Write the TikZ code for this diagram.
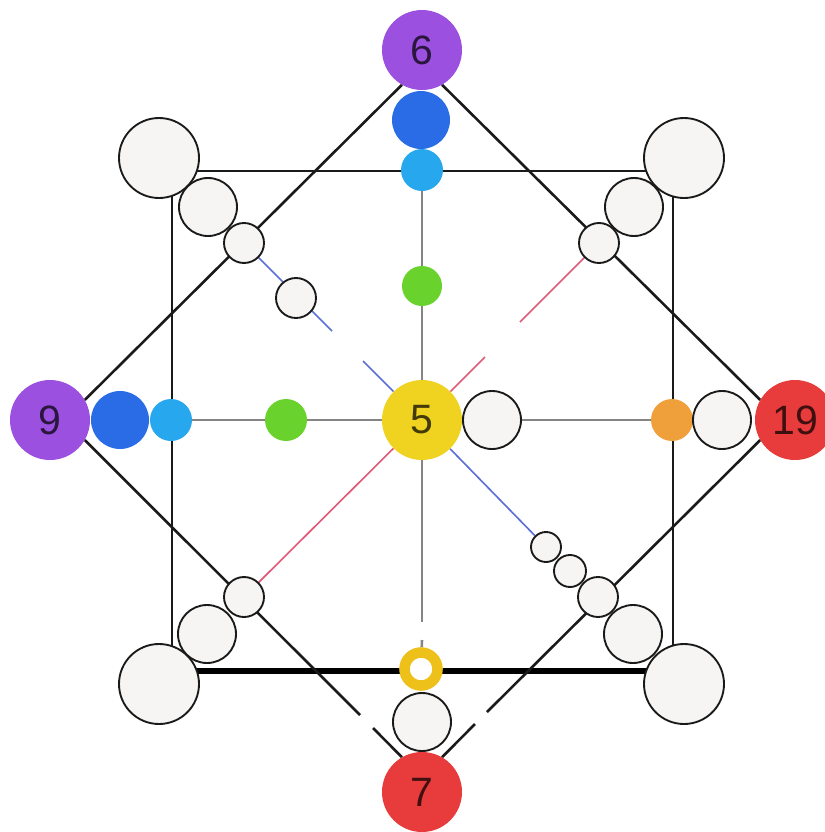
\documentclass[tikz,border=0pt]{standalone}
\usepackage{fontspec}
\setmainfont{Liberation Sans}
\usetikzlibrary{calc}
\definecolor{cpurple}{HTML}{9B50E0}
\definecolor{cdblue}{HTML}{2A6CE6}
\definecolor{clblue}{HTML}{27A8EE}
\definecolor{cgreen}{HTML}{6AD22C}
\definecolor{cyellow}{HTML}{F0D220}
\definecolor{cring}{HTML}{EEC01A}
\definecolor{cred}{HTML}{E83B3B}
\definecolor{corange}{HTML}{F0A03A}
\definecolor{cwhite}{HTML}{F6F5F3}
\definecolor{cgray}{HTML}{858585}
\definecolor{cbluel}{HTML}{5C6FD6}
\definecolor{credl}{HTML}{E05A78}
\definecolor{cline}{HTML}{1A1A1A}
\pgfdeclarelayer{background}
\pgfsetlayers{background,main}
\tikzset{
  ball/.style={circle, inner sep=0pt, draw=none, minimum size=#1},
  bignum/.style={circle, inner sep=0pt, minimum size=2.4cm, font=\fontsize{35}{35}\selectfont, text=black, text opacity=0.72},
  wc/.style={circle, inner sep=0pt, draw=cline, line width=1.6pt, fill=cwhite, minimum size=#1},
  sqline/.style={draw=cline, line width=2.5pt},
  diam/.style={draw=cline, line width=2.2pt},
  grayline/.style={draw=cgray, line width=2.2pt},
  blueline/.style={draw=cbluel, line width=1.4pt},
  redline/.style={draw=credl, line width=1.4pt}
}
\begin{document}
\begin{tikzpicture}[x=0.03cm,y=-0.03cm]
\useasboundingbox (0,0) rectangle (825,832);
\clip (0,0) rectangle (825,832);

% square corners and gap points
\coordinate (sqTL) at (172,171);
\coordinate (sqTR) at (673,171);
\coordinate (sqBL) at (172,671);
\coordinate (sqBR) at (673,671);
\coordinate (vgap1) at (422,622);
\coordinate (vgap2) at (422,640);
\coordinate (gl1) at (360,715);
\coordinate (gl2) at (373,728);
\coordinate (gr1) at (487,712);
\coordinate (gr2) at (475,724);
\coordinate (bl1) at (332,331);
\coordinate (bl2) at (363,361);
\coordinate (rd1) at (520,322);
\coordinate (rd2) at (485,357);

% main numbered circles
\node[bignum, fill=cpurple] (n6) at (422,50) {6};
\node[bignum, fill=cpurple] (n9) at (50,420) {9};
\node[bignum, fill=cred] (n19) at (795,420) {19};
\node[bignum, fill=cred] (n7) at (422,792) {7};
\node[bignum, fill=cyellow] (n5) at (422,420) {5};

% top column
\node[ball=1.74cm, fill=cdblue] (db6) at (421,120) {};
\node[ball=1.26cm, fill=clblue] (lb6) at (422,170) {};
\node[ball=1.2cm, fill=cgreen] (g6) at (422,286) {};
% left row
\node[ball=1.74cm, fill=cdblue] (db9) at (120,420) {};
\node[ball=1.26cm, fill=clblue] (lb9) at (171,420) {};
\node[ball=1.26cm, fill=cgreen] (g9) at (286,420) {};
% right row
\node[wc=1.74cm] (w5) at (492,420) {};
\node[ball=1.26cm, fill=corange] (or) at (672,420) {};
\node[wc=1.74cm] (w19) at (722,420) {};
% bottom column
\node[circle, inner sep=0pt, minimum size=0.99cm, draw=cring, line width=9pt, fill=white] (ring) at (421,669) {};
\node[wc=1.74cm] (w7) at (422,722) {};

% corner chains
\node[wc=2.4cm] (ctl1) at (159,158) {};
\node[wc=1.74cm] (ctl2) at (208,207) {};
\node[wc=1.2cm] (ctl3) at (244,243) {};
\node[wc=1.2cm] (ctl4) at (296,298) {};

\node[wc=2.4cm] (ctr1) at (684,158) {};
\node[wc=1.74cm] (ctr2) at (634,207) {};
\node[wc=1.2cm] (ctr3) at (599,243) {};

\node[wc=2.4cm] (cbl1) at (159,684) {};
\node[wc=1.74cm] (cbl2) at (207,634) {};
\node[wc=1.2cm] (cbl3) at (244,597) {};

\node[wc=2.4cm] (cbr1) at (684,684) {};
\node[wc=1.74cm] (cbr2) at (633,634) {};
\node[wc=1.2cm] (cbr3) at (598,597) {};
\node[wc=0.96cm] (cbr4) at (570,571) {};
\node[wc=0.9cm] (cbr5) at (546,547) {};

\begin{pgfonlayer}{background}
  % square
  \draw[sqline] (sqBL) -- (sqTL) -- (sqTR) -- (sqBR);
  \draw[draw=black, line width=4.5pt] (sqBL) -- (sqBR);
  % gray cross
  \draw[grayline] (lb6) -- (n5);
  \draw[grayline] (lb9) -- (n5);
  \draw[grayline] (n5) -- (or);
  \draw[grayline] (n5) -- (vgap1);
  \draw[grayline] (vgap2) -- (ring);
  % diamond
  \draw[diam] (n9.30) -- (n6.240);
  \draw[diam] (n6.300) -- (n19.150);
  \draw[diam] (n9.330) -- (gl1);
  \draw[diam] (gl2) -- (n7.120);
  \draw[diam] (n19.210) -- (gr1);
  \draw[diam] (gr2) -- (n7.60);
  % blue diagonal
  \draw[blueline] (ctl3) -- (bl1);
  \draw[blueline] (bl2) -- (n5);
  \draw[blueline] (n5) -- (cbr5);
  % red diagonal
  \draw[redline] (ctr3) -- (rd1);
  \draw[redline] (rd2) -- (n5);
  \draw[redline] (n5) -- (cbl3);
\end{pgfonlayer}
\end{tikzpicture}
\end{document}
